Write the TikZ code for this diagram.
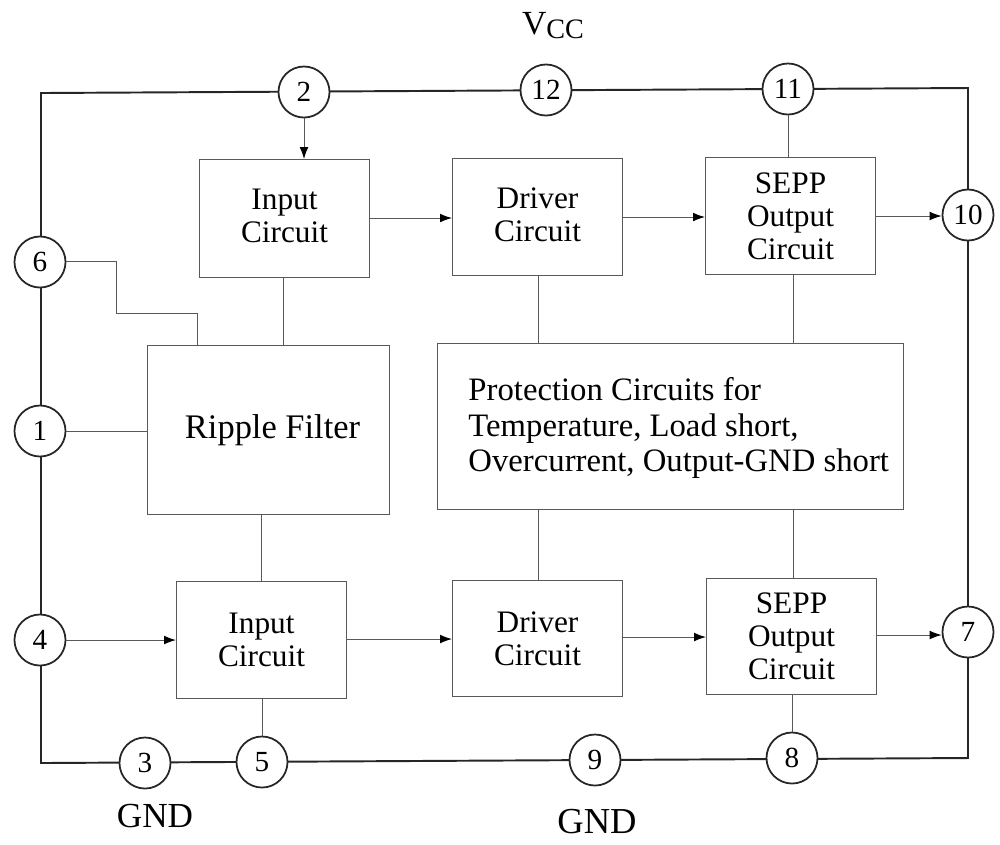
\documentclass[tikz,border=0pt]{standalone}
\usepackage{fontspec}
\setmainfont{Liberation Serif}
\usetikzlibrary{arrows.meta}
\begin{document}
\begin{tikzpicture}[x=0.01cm,y=-0.01cm,
  pin/.style={circle,draw=black!85,line width=0.5pt,minimum size=51*0.2845pt,inner sep=0pt,fill=white,font=\fontsize{8.3pt}{9pt}\selectfont},
  blk/.style={draw=black!65,line width=0.28pt,inner sep=0pt,align=center,font=\fontsize{8.9pt}{9.4pt}\selectfont},
  lin/.style={draw=black!65,line width=0.28pt},
  arr/.style={lin,-{Latex[length=3.4pt,width=2.5pt,black]}},
  rail/.style={draw=black!85,line width=0.55pt},
  lab/.style={font=\fontsize{10pt}{11pt}\selectfont,inner sep=0pt}]
\useasboundingbox (0,0) rectangle (1000,844);
\fill[white] (0,0) rectangle (1000,844);
\def\bx#1#2#3#4#5#6{\node[blk,minimum width={(#4-#3)*0.2845pt},minimum height={(#6-#5)*0.2845pt}] (#1) at ({(#3+#4)/2+0.5},{(#5+#6)/2+0.5}) {#2};}
\def\upx{\\[-8pt]\mbox{}}
\coordinate (tl) at (41,93);
\coordinate (tr) at (968,88);
\coordinate (br) at (968,758);
\coordinate (bl) at (41,763);
\draw[rail] (tl) -- (tr) -- (br) -- (bl) -- cycle;
\bx{inA}{Input\\Circuit\upx}{199}{369}{159}{277}
\bx{drA}{Driver\\Circuit\upx}{452}{622}{158}{275}
\bx{seA}{SEPP\\Output\\Circuit}{705}{875}{157}{274}
\bx{rip}{\fontsize{9.8pt}{10pt}\selectfont\hspace{2.3pt}Ripple Filter}{147}{389}{345}{514}
\node[blk,minimum width={466*0.2845pt},minimum height={166*0.2845pt}] (pro) at (670.5,426.5) {};
\node[blk,draw=none,align=left,anchor=west,font=\fontsize{9.3pt}{10pt}\selectfont] (protxt) at (468,428) {Protection Circuits for\\Temperature, Load short,\\Overcurrent, Output-GND short};
\bx{inB}{Input\\Circuit}{176}{346}{581}{698}
\bx{drB}{Driver\\Circuit}{452}{622}{580}{696}
\bx{seB}{SEPP\\Output\\Circuit}{706}{876}{578}{694}
\node[pin] (p2) at (304,92) {2};
\node[pin] (p12) at (546,90) {12};
\node[pin] (p11) at (788,89) {11};
\node[pin] (p10) at (968,215) {10};
\node[pin] (p6) at (40,262) {6};
\node[pin] (p1) at (40,431) {1};
\node[pin] (p4) at (40,640) {4};
\node[pin] (p7) at (968,632) {7};
\node[pin] (p3) at (145,763) {3};
\node[pin] (p5) at (262,762) {5};
\node[pin] (p9) at (595,760) {9};
\node[pin] (p8) at (792,758) {8};
\coordinate (c6a) at (116,261);
\coordinate (c6b) at (116,313);
\coordinate (c6c) at (197,313);
\coordinate (c6d) at (197,345);
\draw[arr] (p2) -- (304,159);
\draw[lin] (p11) -- (seA.north -| p11);
\draw[arr] (inA.east |- 0,218) -- (drA.west |- 0,218);
\draw[arr] (drA.east |- 0,217) -- (seA.west |- 0,217);
\draw[arr] (seA.east |- 0,216) -- (p10.west |- 0,216);
\draw[lin] (283,277) -- (283,345);
\draw[lin] (p6.east |- c6a) -- (c6a) -- (c6b) -- (c6c) -- (c6d);
\draw[lin] (p1) -- (rip.west |- p1);
\draw[lin] (261,514) -- (261,581);
\draw[arr] (p4) -- (inB.west |- p4);
\draw[arr] (inB.east |- 0,639) -- (drB.west |- 0,639);
\draw[arr] (drB.east |- 0,637) -- (seB.west |- 0,637);
\draw[arr] (seB.east |- 0,635) -- (p7.west |- 0,635);
\draw[lin] (262,698) -- (p5);
\draw[lin] (538,275) -- (538,343);
\draw[lin] (793,274) -- (793,343);
\draw[lin] (538,509) -- (538,580);
\draw[lin] (793,509) -- (793,578);
\draw[lin] (792,694) -- (p8);
\node[lab,font=\fontsize{9.6pt}{11pt}\selectfont] (vcc) at (553,26) {V{\fontsize{8pt}{8pt}\selectfont\raisebox{-1.1pt}{CC}}};
\node[lab] (g1) at (155,816) {GND};
\node[lab,font=\fontsize{10.4pt}{11pt}\selectfont] (g2) at (597,822) {GND};
\end{tikzpicture}
\end{document}
